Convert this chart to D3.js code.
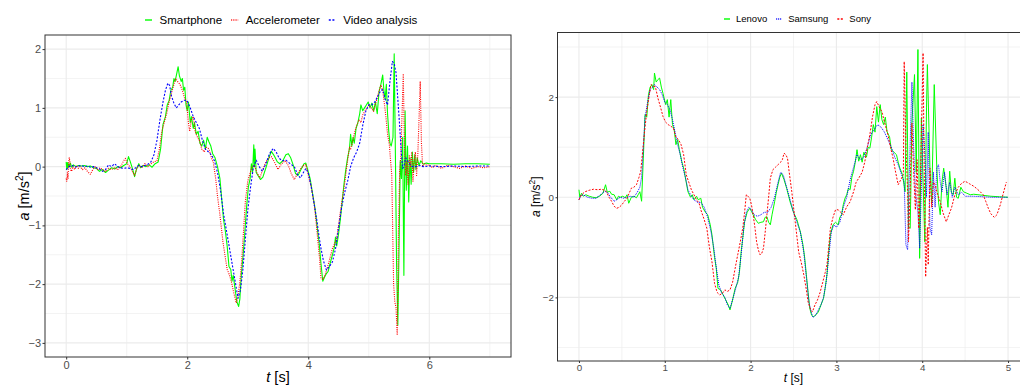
<!DOCTYPE html>
<html><head><meta charset="utf-8">
<script src="https://cdn.jsdelivr.net/npm/d3@7"></script>
<style>body{margin:0;background:#fff}svg{display:block}</style>
</head><body><svg id="c" width="1020" height="385"></svg>
<script>
// ---------------- DATA ----------------
const leftSeriesNames = ["Smartphone", "Accelerometer", "Video analysis"];
const rightSeriesNames = ["Lenovo", "Samsung", "Sony"];
const leftXTicks = [0, 2, 4, 6];
const leftYTicks = [-3, -2, -1, 0, 1, 2];
const rightXTicks = [0, 1, 2, 3, 4, 5];
const rightYTicks = [-2, 0, 2];

// left panel: [t (s), a (m/s^2)]
const smartphone = [[0,0.08],[0.01,-0.05],[0.02,0.07],[0.03,-0.02],[0.04,0.05],[0.05,0],[0.07,0.06],[0.09,-0.01],[0.12,0.03],[0.16,0],[0.2,0.02],[0.25,0.01],[0.3,0.02],[0.35,0],[0.4,0.01],[0.45,-0.02],[0.5,-0.03],[0.55,-0.08],[0.6,-0.05],[0.65,-0.1],[0.7,-0.06],[0.75,-0.02],[0.8,-0.04],[0.85,0],[0.9,-0.02],[0.95,0.02],[1,0.05],[1.03,0.17],[1.06,0.08],[1.1,-0.05],[1.13,-0.17],[1.16,-0.05],[1.2,0.05],[1.23,-0.02],[1.27,0.02],[1.32,0],[1.37,0.03],[1.42,-0.01],[1.47,0.05],[1.52,0.08],[1.56,0.3],[1.6,0.72],[1.64,0.85],[1.67,1.05],[1.7,1.12],[1.73,1.3],[1.76,1.35],[1.78,1.5],[1.8,1.45],[1.83,1.6],[1.85,1.7],[1.87,1.55],[1.9,1.45],[1.92,1.5],[1.94,1.3],[1.96,1.35],[1.98,1.05],[2,0.95],[2.02,1.1],[2.05,0.75],[2.07,0.85],[2.1,0.65],[2.12,0.75],[2.15,0.55],[2.18,0.6],[2.21,0.4],[2.24,0.35],[2.27,0.45],[2.3,0.3],[2.33,0.5],[2.36,0.42],[2.39,0.35],[2.42,0.22],[2.46,0.15],[2.5,0],[2.54,-0.2],[2.57,-0.55],[2.6,-0.9],[2.63,-1.1],[2.66,-1.35],[2.69,-1.7],[2.72,-1.75],[2.74,-1.95],[2.76,-1.85],[2.78,-2],[2.8,-2.15],[2.82,-2.3],[2.85,-2.38],[2.87,-2.25],[2.89,-1.9],[2.92,-1.55],[2.95,-1.15],[2.98,-0.7],[3.01,-0.35],[3.04,-0.2],[3.06,0.05],[3.08,-0.1],[3.1,0.37],[3.11,0],[3.12,0.3],[3.14,-0.1],[3.17,-0.15],[3.21,-0.22],[3.25,-0.18],[3.3,-0.02],[3.35,0.15],[3.39,0.26],[3.44,0.18],[3.49,0.08],[3.53,0.05],[3.58,0.1],[3.63,0.2],[3.67,0.22],[3.71,0.15],[3.75,0.03],[3.79,-0.12],[3.83,-0.15],[3.88,-0.05],[3.93,0.05],[3.96,0.06],[3.99,-0.05],[4.03,-0.2],[4.07,-0.45],[4.11,-0.7],[4.15,-1.05],[4.18,-1.3],[4.21,-1.65],[4.24,-1.95],[4.27,-1.88],[4.3,-1.82],[4.33,-1.78],[4.36,-1.65],[4.4,-1.5],[4.43,-1.38],[4.45,-1.2],[4.47,-1.35],[4.5,-1.15],[4.53,-0.9],[4.56,-0.6],[4.59,-0.3],[4.62,-0.05],[4.65,0.15],[4.68,0.3],[4.7,0.55],[4.72,0.35],[4.74,0.5],[4.76,0.4],[4.79,0.65],[4.82,0.75],[4.85,0.9],[4.87,1.05],[4.9,0.95],[4.93,1],[4.96,1.05],[4.99,1.1],[5.02,1],[5.05,1.08],[5.08,0.95],[5.11,1.1],[5.14,0.9],[5.17,1.28],[5.2,1.4],[5.23,1.56],[5.25,1.3],[5.27,1.15],[5.29,1.4],[5.31,0.9],[5.33,0.6],[5.35,0.4],[5.37,0.35],[5.4,0.5],[5.42,1.92],[5.44,0.2],[5.46,-1.7],[5.48,-2.7],[5.5,-1.4],[5.52,0.1],[5.54,-0.2],[5.56,0.5],[5.58,-1.85],[5.6,0.95],[5.62,-0.4],[5.64,0.35],[5.66,-0.6],[5.68,0.15],[5.7,-0.3],[5.72,0.25],[5.74,-0.1],[5.76,0.2],[5.78,-0.05],[5.8,0.15],[5.83,0.02],[5.86,0.1],[5.9,0.04],[5.95,0.06],[6,0.05],[6.2,0.05],[6.4,0.04],[6.6,0.05],[6.8,0.05],[7,0.04]];
const accelerometer = [[0,-0.2],[0.01,-0.25],[0.02,-0.1],[0.03,-0.2],[0.04,0.05],[0.05,0.15],[0.06,0.1],[0.07,-0.05],[0.09,-0.08],[0.11,0],[0.14,-0.05],[0.17,0.02],[0.2,-0.03],[0.23,0],[0.27,-0.05],[0.31,-0.02],[0.35,-0.08],[0.4,-0.13],[0.44,-0.05],[0.48,0],[0.52,-0.05],[0.56,-0.02],[0.6,-0.05],[0.65,-0.08],[0.7,-0.03],[0.75,-0.05],[0.8,-0.02],[0.85,-0.05],[0.9,0],[0.95,0.1],[0.98,0.14],[1.01,0.05],[1.05,0],[1.09,-0.08],[1.13,-0.15],[1.17,-0.02],[1.21,0.02],[1.25,-0.02],[1.3,0.05],[1.35,0],[1.4,0.05],[1.45,0.08],[1.5,0.1],[1.54,0.3],[1.58,0.6],[1.62,0.75],[1.66,0.9],[1.7,1.1],[1.74,1.25],[1.78,1.4],[1.81,1.5],[1.84,1.45],[1.88,1.4],[1.92,1.3],[1.96,1.15],[1.99,1.1],[2.02,0.75],[2.04,0.6],[2.07,0.8],[2.1,0.85],[2.13,0.6],[2.17,0.5],[2.21,0.42],[2.24,0.3],[2.28,0.25],[2.32,0.33],[2.36,0.3],[2.4,0.15],[2.43,0.08],[2.47,-0.2],[2.5,-0.5],[2.54,-0.82],[2.59,-1.28],[2.63,-1.55],[2.66,-1.75],[2.7,-1.85],[2.73,-1.96],[2.77,-2.15],[2.81,-2.32],[2.84,-2.2],[2.87,-1.96],[2.9,-1.6],[2.93,-1.1],[2.96,-0.6],[3,-0.25],[3.03,-0.14],[3.07,0],[3.11,0.02],[3.15,-0.1],[3.2,-0.19],[3.25,-0.05],[3.3,0.08],[3.35,0.15],[3.39,0.17],[3.44,0.08],[3.5,-0.05],[3.56,0.05],[3.62,0.1],[3.67,0.02],[3.72,-0.12],[3.77,-0.22],[3.82,-0.12],[3.88,-0.03],[3.93,0.03],[3.96,0.03],[4,-0.14],[4.05,-0.35],[4.1,-0.65],[4.13,-0.95],[4.16,-1.28],[4.19,-1.6],[4.21,-1.9],[4.24,-1.92],[4.28,-1.84],[4.32,-1.7],[4.36,-1.55],[4.4,-1.39],[4.44,-1.3],[4.47,-1.22],[4.5,-1],[4.54,-0.7],[4.57,-0.5],[4.6,-0.3],[4.63,-0.05],[4.65,0.1],[4.68,0.33],[4.7,0.3],[4.73,0.42],[4.77,0.6],[4.8,0.7],[4.84,0.8],[4.87,0.75],[4.9,0.88],[4.94,0.95],[4.97,1],[5,1.05],[5.04,1],[5.08,0.94],[5.12,1.1],[5.16,1.25],[5.2,1.39],[5.23,1.3],[5.26,1.05],[5.28,0.88],[5.31,0.55],[5.34,0.37],[5.36,0.1],[5.38,-0.14],[5.41,-2],[5.43,-2.3],[5.45,-2.4],[5.47,-2.87],[5.49,-1.1],[5.51,-0.1],[5.53,0.2],[5.55,0.9],[5.57,1.58],[5.59,0.3],[5.61,-0.15],[5.63,0.1],[5.65,-0.3],[5.67,0.2],[5.69,0],[5.71,0.25],[5.73,-0.25],[5.75,0.1],[5.77,0.25],[5.79,-0.15],[5.81,0.2],[5.83,0.8],[5.85,1.45],[5.87,0.4],[5.89,0],[5.92,0.05],[5.96,0.02],[6,0.03],[6.05,-0.02],[6.1,0.02],[6.15,0],[6.2,-0.03],[6.3,0.02],[6.4,0],[6.5,-0.03],[6.6,0.01],[6.7,-0.03],[6.8,0],[6.9,-0.02],[7,0]];
const videoAnalysis = [[0,-0.05],[0.05,0],[0.1,0.02],[0.15,-0.01],[0.2,0.01],[0.25,0.02],[0.3,0],[0.35,0.01],[0.4,-0.01],[0.45,0],[0.5,-0.02],[0.55,-0.04],[0.6,-0.08],[0.65,-0.05],[0.7,0.03],[0.75,0],[0.8,0.05],[0.85,0],[0.9,-0.02],[0.95,-0.03],[1,-0.02],[1.05,-0.03],[1.1,-0.05],[1.15,-0.02],[1.2,0.02],[1.25,0],[1.3,0.02],[1.35,0.04],[1.4,0.08],[1.45,0.2],[1.5,0.45],[1.55,0.8],[1.6,1.1],[1.64,1.3],[1.68,1.42],[1.71,1.38],[1.74,1.2],[1.78,1.08],[1.82,1],[1.86,1.05],[1.9,1.1],[1.95,1.13],[2,1.12],[2.05,1],[2.1,0.85],[2.15,0.75],[2.2,0.65],[2.25,0.45],[2.3,0.3],[2.35,0.25],[2.4,0.2],[2.45,0.1],[2.5,-0.1],[2.55,-0.4],[2.6,-0.8],[2.65,-1.1],[2.7,-1.4],[2.75,-1.7],[2.8,-2],[2.84,-2.24],[2.88,-2.1],[2.92,-1.75],[2.96,-1.25],[3,-0.75],[3.04,-0.4],[3.09,-0.03],[3.14,0.11],[3.19,0],[3.24,-0.08],[3.3,0.05],[3.36,0.22],[3.42,0.31],[3.47,0.25],[3.52,0.14],[3.57,0.1],[3.63,0.11],[3.7,0.05],[3.77,0],[3.83,-0.15],[3.87,-0.19],[3.92,-0.1],[3.96,-0.03],[4,-0.1],[4.05,-0.35],[4.1,-0.65],[4.14,-0.9],[4.18,-1.2],[4.21,-1.39],[4.25,-1.6],[4.3,-1.76],[4.35,-1.7],[4.4,-1.62],[4.45,-1.4],[4.5,-1.05],[4.55,-0.7],[4.6,-0.45],[4.65,-0.25],[4.7,0],[4.75,0.15],[4.8,0.25],[4.85,0.4],[4.9,0.7],[4.95,0.94],[5,1.05],[5.05,1.05],[5.1,1.1],[5.15,1.2],[5.2,1.3],[5.23,1.31],[5.27,1.15],[5.31,1.05],[5.35,1.45],[5.39,1.79],[5.42,1.75],[5.45,1.6],[5.48,1.15],[5.51,0.7],[5.54,0.2],[5.56,-0.03],[5.58,0],[5.61,0.15],[5.64,0.1],[5.68,0.04],[5.72,0],[5.78,0],[5.85,0.02],[5.9,0],[6,0.01],[6.2,0],[6.4,0.01],[6.6,0],[6.8,0.01],[7,0.01]];

// right panel: [t (s), a (m/s^2)]
const lenovo = [[0,0.15],[0.01,0],[0.03,0.08],[0.05,0.02],[0.08,0.05],[0.12,0.02],[0.16,0],[0.2,-0.01],[0.24,0.02],[0.28,0.08],[0.31,0.25],[0.33,0.1],[0.36,0.12],[0.38,0.06],[0.41,0.05],[0.44,-0.05],[0.46,0.02],[0.48,0],[0.51,0.02],[0.54,-0.01],[0.56,0.05],[0.58,-0.12],[0.61,0],[0.64,0.02],[0.67,-0.01],[0.69,0.05],[0.71,0.11],[0.73,-0.08],[0.75,0.78],[0.77,1.65],[0.79,1.6],[0.81,2.05],[0.83,2.2],[0.85,2.25],[0.87,2.15],[0.88,2.48],[0.9,2.3],[0.92,2.35],[0.94,2.38],[0.96,2.2],[0.98,2.07],[1.01,1.85],[1.03,1.95],[1.05,1.6],[1.07,1.95],[1.09,1.45],[1.11,1.35],[1.13,1.05],[1.15,1.15],[1.17,0.95],[1.2,0.7],[1.22,0.58],[1.25,0.3],[1.27,0.11],[1.3,0],[1.32,0.05],[1.34,-0.05],[1.37,0.02],[1.39,-0.05],[1.42,-0.02],[1.44,-0.2],[1.47,-0.29],[1.5,-0.35],[1.53,-0.55],[1.55,-0.75],[1.58,-1.2],[1.6,-1.42],[1.62,-1.82],[1.65,-1.85],[1.68,-1.95],[1.71,-2.05],[1.74,-2.15],[1.76,-2.25],[1.79,-2.05],[1.82,-1.82],[1.85,-1.7],[1.87,-1.5],[1.89,-1.09],[1.91,-0.8],[1.93,-0.49],[1.96,-0.3],[1.99,-0.22],[2.01,-0.28],[2.03,-0.35],[2.06,-0.45],[2.09,-0.52],[2.12,-0.5],[2.15,-0.49],[2.17,-0.4],[2.19,-0.39],[2.21,-0.5],[2.23,-0.55],[2.25,-0.35],[2.28,-0.09],[2.3,0.1],[2.32,0.25],[2.34,0.4],[2.36,0.48],[2.39,0.35],[2.42,0.18],[2.46,-0.09],[2.5,-0.3],[2.54,-0.45],[2.58,-0.69],[2.61,-0.95],[2.63,-1.2],[2.65,-1.55],[2.67,-1.9],[2.69,-2.22],[2.71,-2.35],[2.73,-2.39],[2.76,-2.35],[2.79,-2.29],[2.82,-2.15],[2.85,-2.02],[2.87,-1.8],[2.89,-1.55],[2.91,-1.1],[2.93,-0.75],[2.96,-0.55],[2.99,-0.5],[3.02,-0.55],[3.04,-0.4],[3.06,-0.35],[3.08,-0.15],[3.1,-0.02],[3.12,0.05],[3.14,0.18],[3.16,0.15],[3.18,0.4],[3.2,0.52],[3.22,0.7],[3.24,0.95],[3.26,0.72],[3.28,0.85],[3.3,0.7],[3.32,0.9],[3.35,0.8],[3.37,1],[3.39,0.98],[3.41,1.2],[3.43,1.45],[3.45,1.3],[3.47,1.81],[3.49,1.5],[3.51,1.85],[3.53,1.55],[3.55,1.45],[3.57,1.6],[3.59,1.31],[3.62,1.2],[3.64,0.95],[3.67,0.9],[3.7,0.85],[3.72,0.7],[3.74,0.58],[3.77,0.45],[3.8,0.11],[3.82,2.5],[3.84,-0.6],[3.86,-0.62],[3.88,1.5],[3.91,2.45],[3.93,0.5],[3.95,2.95],[3.97,-1.22],[3.99,1.58],[4.01,0.3],[4.03,-0.89],[4.05,1.8],[4.06,2.65],[4.09,0.58],[4.11,-0.09],[4.14,2.25],[4.17,0.58],[4.19,-0.1],[4.21,-0.35],[4.23,0.3],[4.25,0.58],[4.28,0.18],[4.3,-0.2],[4.32,0.52],[4.34,0.1],[4.36,0.05],[4.38,0.38],[4.4,0],[4.42,-0.02],[4.45,0.2],[4.48,0.11],[4.52,0.08],[4.56,0.05],[4.6,0.06],[4.65,0.05],[4.7,0.04],[4.8,0.02],[4.9,0.01],[5,0]];
const samsung = [[0,-0.05],[0.02,0.03],[0.05,0.05],[0.1,0],[0.15,-0.02],[0.2,-0.02],[0.25,0.05],[0.3,0.12],[0.33,0.1],[0.37,0],[0.41,-0.08],[0.44,-0.05],[0.48,0],[0.52,-0.02],[0.56,0],[0.6,0.02],[0.64,0],[0.68,0.1],[0.71,0.2],[0.73,0.4],[0.75,1],[0.77,1.6],[0.8,1.9],[0.83,2.15],[0.86,2.2],[0.88,2.25],[0.91,2.2],[0.94,2.15],[0.97,2.05],[1,1.9],[1.03,1.85],[1.06,1.75],[1.09,1.55],[1.12,1.3],[1.15,1.05],[1.18,0.85],[1.21,0.6],[1.24,0.4],[1.27,0.15],[1.3,0.05],[1.34,-0.05],[1.38,-0.1],[1.42,-0.1],[1.46,-0.2],[1.5,-0.4],[1.54,-0.7],[1.57,-1],[1.6,-1.4],[1.63,-1.75],[1.66,-1.9],[1.7,-2],[1.73,-2.15],[1.76,-2.22],[1.79,-2.05],[1.83,-1.8],[1.86,-1.6],[1.89,-1.15],[1.92,-0.6],[1.95,-0.3],[1.98,-0.2],[2.01,-0.25],[2.04,-0.35],[2.08,-0.38],[2.12,-0.35],[2.16,-0.3],[2.2,-0.3],[2.24,-0.2],[2.28,0],[2.32,0.3],[2.35,0.5],[2.38,0.45],[2.42,0.2],[2.46,-0.05],[2.5,-0.3],[2.54,-0.5],[2.58,-0.7],[2.62,-1.1],[2.65,-1.6],[2.68,-2.1],[2.71,-2.32],[2.73,-2.4],[2.76,-2.35],[2.79,-2.25],[2.82,-2.15],[2.85,-2],[2.88,-1.7],[2.91,-1.2],[2.94,-0.7],[2.97,-0.55],[3,-0.6],[3.04,-0.5],[3.08,-0.2],[3.12,0],[3.16,0.35],[3.2,0.6],[3.24,0.85],[3.28,0.75],[3.32,0.8],[3.36,1],[3.4,1.25],[3.44,1.35],[3.48,1.45],[3.52,1.4],[3.56,1.3],[3.6,1.15],[3.64,1],[3.68,0.8],[3.72,0.65],[3.76,0.45],[3.79,0.3],[3.81,-0.95],[3.83,-1.05],[3.85,0.5],[3.88,2.3],[3.9,1],[3.92,0.1],[3.95,-0.3],[3.97,-1.02],[3.99,0.2],[4.01,1.45],[4.03,0.9],[4.05,0],[4.07,1.3],[4.09,-0.62],[4.11,-0.75],[4.13,0.5],[4.15,-0.2],[4.17,0.58],[4.19,0.65],[4.21,0.3],[4.23,0.11],[4.26,0.5],[4.29,0.05],[4.32,0.3],[4.35,0],[4.38,0.2],[4.42,0.05],[4.46,0.1],[4.5,0.02],[4.6,0.02],[4.7,0.01],[4.8,0],[4.9,0],[5,0]];
const sony = [[0,-0.05],[0.03,0.05],[0.07,0.11],[0.12,0.14],[0.17,0.16],[0.22,0.15],[0.26,0.16],[0.3,0.14],[0.32,0.11],[0.35,0],[0.38,-0.08],[0.41,-0.18],[0.44,-0.22],[0.47,-0.2],[0.5,-0.15],[0.53,-0.08],[0.56,-0.02],[0.59,0.1],[0.61,0.18],[0.64,0.2],[0.67,0.25],[0.7,0.4],[0.72,0.52],[0.75,1.05],[0.77,1.4],[0.79,1.71],[0.82,2.05],[0.84,2.25],[0.86,2.22],[0.89,2.21],[0.92,1.98],[0.95,1.8],[0.98,1.61],[1.01,1.5],[1.04,1.45],[1.07,1.42],[1.1,1.38],[1.13,1.2],[1.16,1.15],[1.19,1.05],[1.22,0.85],[1.25,0.45],[1.28,0.3],[1.31,0.15],[1.34,0.05],[1.37,-0.05],[1.4,-0.12],[1.42,-0.25],[1.46,-0.45],[1.49,-0.62],[1.52,-1],[1.55,-1.29],[1.58,-1.72],[1.61,-1.9],[1.64,-1.95],[1.67,-1.92],[1.7,-1.85],[1.73,-1.88],[1.76,-1.85],[1.79,-1.7],[1.82,-1.42],[1.85,-1.15],[1.88,-0.89],[1.91,-0.6],[1.93,-0.3],[1.95,0.05],[1.97,0.02],[1.99,-0.02],[2.01,-0.15],[2.03,-0.35],[2.05,-0.6],[2.07,-0.89],[2.09,-1.05],[2.11,-1.15],[2.13,-1.12],[2.15,-1.02],[2.17,-0.7],[2.19,-0.35],[2.21,0],[2.23,0.38],[2.26,0.55],[2.29,0.6],[2.32,0.65],[2.35,0.7],[2.37,0.75],[2.39,0.88],[2.41,0.85],[2.43,0.78],[2.45,0.5],[2.48,0.11],[2.52,-0.49],[2.56,-1.09],[2.59,-1.3],[2.62,-1.55],[2.65,-1.85],[2.67,-2.09],[2.7,-2.25],[2.72,-2.29],[2.75,-2.15],[2.78,-2.05],[2.81,-1.9],[2.84,-1.7],[2.87,-1.5],[2.89,-1.35],[2.91,-1],[2.93,-0.62],[2.96,-0.4],[2.99,-0.25],[3.02,-0.25],[3.05,-0.3],[3.08,-0.35],[3.12,-0.19],[3.16,-0.09],[3.2,0.11],[3.23,0.3],[3.26,0.38],[3.3,0.5],[3.33,0.7],[3.36,1],[3.39,1.25],[3.42,1.6],[3.45,1.85],[3.47,1.91],[3.5,1.8],[3.53,1.71],[3.56,1.5],[3.6,1.25],[3.63,1],[3.66,0.78],[3.69,0.5],[3.72,0.25],[3.75,0.35],[3.78,0.45],[3.79,2.71],[3.81,1],[3.83,0.11],[3.84,-0.89],[3.86,0.2],[3.88,1.48],[3.9,0.5],[3.92,-0.25],[3.94,0.75],[3.96,-0.62],[3.98,0.4],[3.99,1.25],[4.01,2.88],[4.02,1],[4.04,-1.59],[4.06,-0.6],[4.07,-1.35],[4.09,0.58],[4.11,-0.2],[4.13,0.3],[4.15,0.25],[4.18,0.05],[4.21,-0.09],[4.24,-0.3],[4.28,-0.49],[4.31,-0.35],[4.34,-0.22],[4.38,0.05],[4.42,0.2],[4.46,0.28],[4.5,0.32],[4.55,0.27],[4.6,0.22],[4.63,0.18],[4.67,0.12],[4.71,0.05],[4.74,-0.08],[4.77,-0.22],[4.8,-0.33],[4.84,-0.4],[4.87,-0.35],[4.91,-0.15],[4.94,0.05],[4.98,0.3]];

// ---------------- DRAWING ----------------
const FONT = '"Liberation Sans", Arial, Helvetica, sans-serif';
const svg = d3.select("#c").style("font-family", FONT);
const defs = svg.append("defs");

function drawPanel(cfg) {
  const x = d3.scaleLinear().domain(cfg.xDomain).range([cfg.left, cfg.right]);
  const y = d3.scaleLinear().domain(cfg.yDomain).range([cfg.bottom, cfg.top]);
  const g = svg.append("g");
  const W = cfg.right - cfg.left, H = cfg.bottom - cfg.top;

  defs.append("clipPath").attr("id", cfg.id + "clip")
    .append("rect").attr("x", cfg.left).attr("y", cfg.top).attr("width", W).attr("height", H);

  // grid: minor then major
  const grid = g.append("g");
  cfg.xMinor.forEach(v => grid.append("line").attr("x1", x(v)).attr("x2", x(v)).attr("y1", cfg.top).attr("y2", cfg.bottom)
    .attr("stroke", "#ebebeb").attr("stroke-width", 0.6));
  cfg.yMinor.forEach(v => grid.append("line").attr("y1", y(v)).attr("y2", y(v)).attr("x1", cfg.left).attr("x2", cfg.right)
    .attr("stroke", "#ebebeb").attr("stroke-width", 0.6));
  cfg.xTicks.forEach(v => grid.append("line").attr("x1", x(v)).attr("x2", x(v)).attr("y1", cfg.top).attr("y2", cfg.bottom)
    .attr("stroke", "#ebebeb").attr("stroke-width", 1.1));
  cfg.yTicks.forEach(v => grid.append("line").attr("y1", y(v)).attr("y2", y(v)).attr("x1", cfg.left).attr("x2", cfg.right)
    .attr("stroke", "#ebebeb").attr("stroke-width", 1.1));

  // lines
  const lineGen = d3.line().x(d => x(d[0])).y(d => y(d[1]));
  const lg = g.append("g").attr("clip-path", `url(#${cfg.id}clip)`);
  cfg.series.forEach(s => {
    lg.append("path").datum(s.data).attr("d", lineGen).attr("fill", "none")
      .attr("stroke", s.color).attr("stroke-width", s.width)
      .attr("stroke-dasharray", s.dash || null).attr("stroke-linejoin", "round");
  });

  // border
  g.append("rect").attr("x", cfg.left).attr("y", cfg.top).attr("width", W).attr("height", H)
    .attr("fill", "none").attr("stroke", "#333").attr("stroke-width", 1);

  // axes
  const ax = g.append("g").attr("transform", `translate(0,${cfg.bottom})`)
    .call(d3.axisBottom(x).tickValues(cfg.xTicks).tickSize(cfg.tickLen).tickPadding(cfg.xPad).tickFormat(d3.format("d")));
  const ay = g.append("g").attr("transform", `translate(${cfg.left},0)`)
    .call(d3.axisLeft(y).tickValues(cfg.yTicks).tickSize(cfg.tickLen).tickPadding(cfg.yPad).tickFormat(d3.format("d")));
  [ax, ay].forEach(a => {
    a.select(".domain").remove();
    a.selectAll(".tick line").attr("stroke", "#333").attr("stroke-width", 1);
    a.selectAll(".tick text").attr("fill", "#4d4d4d").style("font-size", cfg.tickFont + "px").style("font-family", FONT);
  });

  // axis titles
  const xt = g.append("text").attr("x", (cfg.left + cfg.right) / 2)
    .attr("y", cfg.xTitleY).attr("text-anchor", "middle").style("font-size", cfg.titleFont + "px");
  xt.append("tspan").attr("font-style", "italic").text("t");
  xt.append("tspan").text(" [s]");
  const yt = g.append("text").attr("transform", `translate(${cfg.yTitleX},${(cfg.top + cfg.bottom) / 2}) rotate(-90)`)
    .attr("text-anchor", "middle").style("font-size", cfg.titleFont + "px");
  yt.append("tspan").attr("font-style", "italic").text("a");
  yt.append("tspan").text(" [m/s");
  yt.append("tspan").attr("dy", -cfg.titleFont * 0.4).style("font-size", (cfg.titleFont * 0.7) + "px").text("2");
  yt.append("tspan").attr("dy", cfg.titleFont * 0.4).text("]");

  // legend
  const leg = g.append("g");
  let cx = 0;
  cfg.series.forEach(s => {
    const it = leg.append("g");
    it.append("line").attr("x1", 0).attr("x2", cfg.keyW).attr("y1", 0.5).attr("y2", 0.5)
      .attr("stroke", s.color).attr("stroke-width", 1.4).attr("stroke-dasharray", s.dash || null);
    const t = it.append("text").attr("x", cfg.keyW + cfg.keyGap).attr("y", 0).attr("dy", "0.35em")
      .style("font-size", cfg.legFont + "px").text(s.name);
    const w = cfg.keyW + cfg.keyGap + t.node().getComputedTextLength();
    it.attr("transform", `translate(${cx},0)`);
    cx += w + cfg.itemGap;
  });
  const total = cx - cfg.itemGap;
  leg.attr("transform", `translate(${Math.round(cfg.legCenter - total / 2)},${cfg.legY})`);
}

drawPanel({
  id: "L", left: 45, right: 511, top: 35, bottom: 357,
  xDomain: [-0.35, 7.35], yDomain: [-3.24, 2.24],
  xTicks: leftXTicks, yTicks: leftYTicks,
  xMinor: [1, 3, 5, 7], yMinor: [-2.5, -1.5, -0.5, 0.5, 1.5],
  tickLen: 2.5, xPad: 1.5, yPad: 1.5, tickFont: 11, titleFont: 14.5,
  xTitleY: 382, yTitleX: 29,
  legFont: 11.5, legY: 19.5, legCenter: 281, keyW: 7, keyGap: 7.5, itemGap: 9,
  series: [
    { name: leftSeriesNames[0], data: smartphone, color: "#00ff00", width: 1.1 },
    { name: leftSeriesNames[1], data: accelerometer, color: "#ff0000", width: 1.1, dash: "1,1.2" },
    { name: leftSeriesNames[2], data: videoAnalysis, color: "#0000ff", width: 1.1, dash: "2,1.6" }
  ]
});

drawPanel({
  id: "R", left: 557.5, right: 1029.5, top: 32.5, bottom: 361,
  xDomain: [-0.25, 5.25], yDomain: [-3.27, 3.29],
  xTicks: rightXTicks, yTicks: rightYTicks,
  xMinor: [0.5, 1.5, 2.5, 3.5, 4.5], yMinor: [-3, -1, 1, 3],
  tickLen: 2, xPad: 1, yPad: 1.5, tickFont: 9.8, titleFont: 12,
  xTitleY: 382, yTitleX: 539.5,
  legFont: 9.5, legY: 18.5, legCenter: 797, keyW: 6, keyGap: 6, itemGap: 9,
  series: [
    { name: rightSeriesNames[0], data: lenovo, color: "#00ff00", width: 1.0 },
    { name: rightSeriesNames[1], data: samsung, color: "#0000ff", width: 1.0, dash: "1,1" },
    { name: rightSeriesNames[2], data: sony, color: "#ff0000", width: 1.0, dash: "2,1.5" }
  ]
});
</script></body></html>
